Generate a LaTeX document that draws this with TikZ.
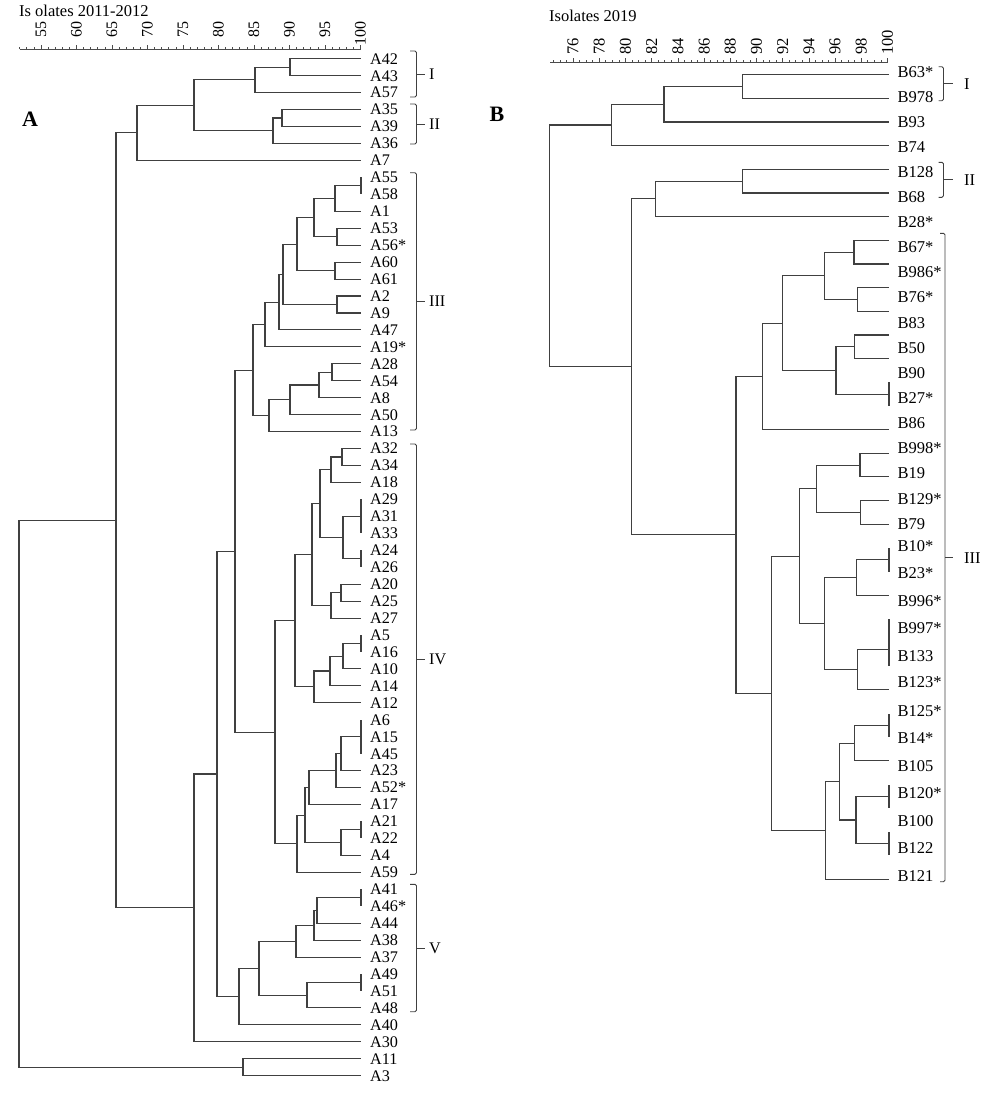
\documentclass[tikz,border=0pt]{standalone}
\usepackage{fontspec}
\setmainfont{Liberation Serif}
\tikzset{
    branch/.style={draw=black!75, line width=1.1pt},
    axisline/.style={draw=black!70, line width=0.8pt},
    bracket/.style={draw=black!75, line width=0.9pt, rounded corners=1.5pt},
    leafA/.style={anchor=west, inner sep=0pt, text height=10.7pt, text depth=0pt, font=\fontsize{16.2}{19}\selectfont},
    leafB/.style={leafA, text height=11pt, font=\fontsize{16.5}{19}\selectfont},
    ticklbl/.style={rotate=90, inner sep=0pt, font=\fontsize{16}{19}\selectfont},
    ticklblB/.style={ticklbl, font=\fontsize{16.5}{19}\selectfont},
    clusterlbl/.style={anchor=west, inner sep=0pt, text height=10.7pt, text depth=0pt, font=\fontsize{16.2}{19}\selectfont},
    paneltitle/.style={anchor=west, inner sep=0pt, font=\fontsize{16.5}{19}\selectfont},
    panelletter/.style={inner sep=0pt, font=\fontsize{22}{26}\selectfont\bfseries}
}

\begin{document}
\begin{tikzpicture}[x=1pt, y=-1pt]
    \useasboundingbox (0,0) rectangle (1000,1096);

    % ---------- panel A ----------
    \node [paneltitle] (titleA) at (19,11) {Is olates 2011-2012};
    \node [panelletter] (letterA) at (30,119.5) {A};
    \draw [axisline] (20,49.3) -- (360.5,49.3);
    \foreach \v in {52,...,100}
        \draw [axisline] ({360.5-(100-\v)*7.1},49.3) -- ++(0,-2.5);
    \foreach \v in {55,60,...,100} {
        \draw [axisline] ({360.5-(100-\v)*7.1},49.3) -- ++(0,-4);
        \node [ticklbl, anchor=east] (ta\v) at ({360.5-(100-\v)*7.1},21.7) {\v};
    }

    \begin{scope}[y=-16.95pt, yshift=-58.7pt]
        \foreach \t [count=\i from 0] in {A42, A43, A57, A35, A39, A36, A7,
            A55, A58, A1, A53, A56*, A60, A61, A2, A9, A47, A19*, A28, A54, A8, A50, A13,
            A32, A34, A18, A29, A31, A33, A24, A26, A20, A25, A27, A5, A16, A10, A14, A12,
            A6, A15, A45, A23, A52*, A17, A21, A22, A4, A59,
            A41, A46*, A44, A38, A37, A49, A51, A48, A40, A30, A11, A3} {
            \coordinate (a\i) at (361,\i);
            \node [leafA] (la\i) at (370,\i) {\t};
        }

        % clusters I, II and A7
        \coordinate (i1) at (290,0.5);
        \coordinate (i2) at (255,1.25);
        \coordinate (ii1) at (282,3.5);
        \coordinate (ii2) at (273,4.25);
        \coordinate (top1) at (194,2.75);
        \coordinate (top2) at (137,4.375);
        % cluster III
        \coordinate (iii1) at (361,7.5);
        \coordinate (iii2) at (335,8.25);
        \coordinate (iii3) at (337,10.5);
        \coordinate (iii4) at (314,9.375);
        \coordinate (iii5) at (335,12.5);
        \coordinate (iii6) at (297,10.9375);
        \coordinate (iii7) at (337,14.5);
        \coordinate (iii8) at (283,12.72);
        \coordinate (iii9) at (279,14.36);
        \coordinate (iii10) at (265,15.68);
        \coordinate (iii11) at (332,18.5);
        \coordinate (iii12) at (319,19.25);
        \coordinate (iii13) at (290,20.125);
        \coordinate (iii14) at (269,21.06);
        \coordinate (iii15) at (253,18.37);
        % cluster IV
        \coordinate (iv1) at (342,23.5);
        \coordinate (iv2) at (331,24.25);
        \coordinate (iv3) at (361,27);
        \coordinate (iv4) at (361,29.5);
        \coordinate (iv5) at (343,28.25);
        \coordinate (iv6) at (320,26.25);
        \coordinate (iv7) at (341,31.5);
        \coordinate (iv8) at (331,32.25);
        \coordinate (iv9) at (312,29.25);
        \coordinate (iv10) at (361,34.5);
        \coordinate (iv11) at (343,35.25);
        \coordinate (iv12) at (330,36.125);
        \coordinate (iv13) at (314,37.06);
        \coordinate (iv14) at (295,33.16);
        \coordinate (iv15) at (361,40);
        \coordinate (iv16) at (341,41);
        \coordinate (iv17) at (336,42);
        \coordinate (iv18) at (309,43);
        \coordinate (iv19) at (361,45.5);
        \coordinate (iv20) at (341,46.25);
        \coordinate (iv21) at (305,44.625);
        \coordinate (iv22) at (297,46.31);
        \coordinate (iv23) at (275,39.74);
        \coordinate (mid1) at (235,29.06);
        % cluster V
        \coordinate (v1) at (361,49.5);
        \coordinate (v2) at (317,50.25);
        \coordinate (v3) at (314,51.125);
        \coordinate (v4) at (296,52.06);
        \coordinate (v5) at (361,54.5);
        \coordinate (v6) at (307,55.25);
        \coordinate (v7) at (259,53.66);
        \coordinate (v8) at (239,55.33);
        \coordinate (mid2) at (217,42.2);
        \coordinate (mid3) at (194,50.1);
        \coordinate (upA) at (116,27.24);
        \coordinate (lowA) at (243,59.5);
        \coordinate (rootA) at (19,43.37);

        \foreach \p/\c in {i1/a0, i1/a1, i2/i1, i2/a2, ii1/a3, ii1/a4, ii2/ii1, ii2/a5,
            top1/i2, top1/ii2, top2/top1, top2/a6,
            iii1/a7, iii1/a8, iii2/iii1, iii2/a9, iii3/a10, iii3/a11, iii4/iii2, iii4/iii3,
            iii5/a12, iii5/a13, iii6/iii4, iii6/iii5, iii7/a14, iii7/a15, iii8/iii6, iii8/iii7,
            iii9/iii8, iii9/a16, iii10/iii9, iii10/a17, iii11/a18, iii11/a19, iii12/iii11, iii12/a20,
            iii13/iii12, iii13/a21, iii14/iii13, iii14/a22, iii15/iii10, iii15/iii14,
            iv1/a23, iv1/a24, iv2/iv1, iv2/a25, iv3/a26, iv3/a27, iv3/a28, iv4/a29, iv4/a30,
            iv5/iv3, iv5/iv4, iv6/iv2, iv6/iv5, iv7/a31, iv7/a32, iv8/iv7, iv8/a33, iv9/iv6, iv9/iv8,
            iv10/a34, iv10/a35, iv11/iv10, iv11/a36, iv12/iv11, iv12/a37, iv13/iv12, iv13/a38,
            iv14/iv9, iv14/iv13, iv15/a39, iv15/a40, iv15/a41, iv16/iv15, iv16/a42, iv17/iv16, iv17/a43,
            iv18/iv17, iv18/a44, iv19/a45, iv19/a46, iv20/iv19, iv20/a47, iv21/iv18, iv21/iv20,
            iv22/iv21, iv22/a48, iv23/iv14, iv23/iv22, mid1/iii15, mid1/iv23,
            v1/a49, v1/a50, v2/v1, v2/a51, v3/v2, v3/a52, v4/v3, v4/a53, v5/a54, v5/a55,
            v6/v5, v6/a56, v7/v4, v7/v6, v8/v7, v8/a57, mid2/mid1, mid2/v8, mid3/mid2, mid3/a58,
            upA/top2, upA/mid3, lowA/a59, lowA/a60, rootA/upA, rootA/lowA}
            \draw [branch] (\p) |- (\c);
    \end{scope}

    % cluster brackets A
    \foreach \t/\b/\lbl [count=\j] in {51/97/I, 104/144/II, 172.7/430/III, 444/874.3/IV, 884.3/1011.7/V} {
        \draw [bracket] (410,\t) -- (416.5,\t) -- (416.5,\b) -- (410,\b);
        \draw [bracket] (416.5,{(\t+\b)/2}) -- (425,{(\t+\b)/2});
        \node [clusterlbl] (ca\j) at (429,{(\t+\b)/2}) {\lbl};
    }

    % ---------- panel B ----------
    \node [paneltitle] (titleB) at (549,16) {Isolates 2019};
    \node [panelletter] (letterB) at (497,114) {B};
    \draw [axisline] (550,62.7) -- (888,62.7);
    \foreach \k in {0,...,51}
        \draw [axisline] ({887.5-(25.5-\k/2)*13.1},62.7) -- ++(0,-2.5);
    \foreach \v in {76,78,...,100} {
        \draw [axisline] ({887.5-(100-\v)*13.1},62.7) -- ++(0,-4.5);
        \node [ticklblB, anchor=west] (tb\v) at ({887.5-(100-\v)*13.1},55) {\v};
    }

    \begin{scope}[y=-23.66pt, yshift=-74.7pt]
        \foreach \i in {0,...,34}
            \coordinate (b\i) at (889,\i);

        \coordinate (q1) at (742.7,0.5);
        \coordinate (q2) at (664,1.25);
        \coordinate (q3) at (611.7,2.125);
        \coordinate (q4) at (742.7,4.5);
        \coordinate (q5) at (655.7,5.25);
        \coordinate (q10) at (854,7.5);
        \coordinate (q11) at (857.7,9.5);
        \coordinate (q9) at (824.3,8.5);
        \coordinate (q13) at (854.3,11.5);
        \coordinate (q14) at (889,13.5);
        \coordinate (q12) at (836,12.5);
        \coordinate (q8) at (782.7,10.5);
        \coordinate (q7) at (762.3,12.75);
        \coordinate (q17) at (860,16.5);
        \coordinate (q18) at (860.7,18.5);
        \coordinate (q16) at (816.7,17.5);
        \coordinate (q21) at (889,20.5);
        \coordinate (q20) at (856.7,21.25);
        \coordinate (q23) at (889,24.3);
        \coordinate (q22) at (857.7,25.15);
        \coordinate (q19) at (824.3,23.2);
        \coordinate (q15) at (799.3,20.35);
        \coordinate (q27) at (889,27.5);
        \coordinate (q26) at (854.3,28.25);
        \coordinate (q29) at (889,30.5);
        \coordinate (q30) at (889,32.5);
        \coordinate (q28) at (856,31.5);
        \coordinate (q25) at (839.3,29.875);
        \coordinate (q24) at (825.7,31.94);
        \coordinate (q31) at (771.7,26.15);
        \coordinate (q32) at (736,19.45);
        \coordinate (q6) at (631.7,12.35);
        \coordinate (rootB) at (549.5,7.24);

        \foreach \p/\c in {q1/b0, q1/b1, q2/q1, q2/b2, q3/q2, q3/b3, q4/b4, q4/b5, q5/q4, q5/b6,
            q10/b7, q10/b8, q11/b9, q11/b10, q9/q10, q9/q11, q13/b11, q13/b12, q14/b13, q14/b14,
            q12/q13, q12/q14, q8/q9, q8/q12, q7/q8, q7/b15,
            q17/b16, q17/b17, q18/b18, q18/b19, q16/q17, q16/q18, q21/b20, q21/b21, q20/q21, q20/b22,
            q23/b23, q23/b24, q23/b25, q22/q23, q22/b26, q19/q20, q19/q22, q15/q16, q15/q19,
            q27/b27, q27/b28, q26/q27, q26/b29, q29/b30, q29/b31, q30/b32, q30/b33, q28/q29, q28/q30,
            q25/q26, q25/q28, q24/q25, q24/b34, q31/q15, q31/q24, q32/q7, q32/q31,
            q6/q5, q6/q32, rootB/q3, rootB/q6}
            \draw [branch] (\p) |- (\c);
    \end{scope}

    \foreach \t/\y [count=\j] in {B63*/72, B978/97.3, B93/122, B74/146.7, B128/172.3, B68/197.3,
        B28*/221.7, B67*/247, B986*/271.7, B76*/297.3, B83/322.7, B50/347.7, B90/372.7, B27*/397.7,
        B86/422.7, B998*/448.3, B19/473.3, B129*/499, B79/524, B10*/546, B23*/573.3, B996*/601,
        B997*/628.3, B133/656, B123*/682.3, B125*/711, B14*/738.3, B105/766, B120*/793.3,
        B100/820.7, B122/848.3, B121/876}
        \node [leafB] (lb\j) at (897.5,\y) {\t};

    % cluster brackets B
    \foreach \x/\t/\b/\lbl [count=\j] in {943.5/66.7/100.7/I, 943.5/162.3/197.3/II, 945/233.3/881.7/III} {
        \draw [bracket] (\x-5,\t) -- (\x,\t) -- (\x,\b) -- (\x-5,\b);
        \draw [bracket] (\x,{(\t+\b)/2}) -- (953.3,{(\t+\b)/2});
        \node [clusterlbl, text height=11pt, font=\fontsize{16.5}{19}\selectfont] (cb\j) at (964,{(\t+\b)/2}) {\lbl};
    }
\end{tikzpicture}
\end{document}
